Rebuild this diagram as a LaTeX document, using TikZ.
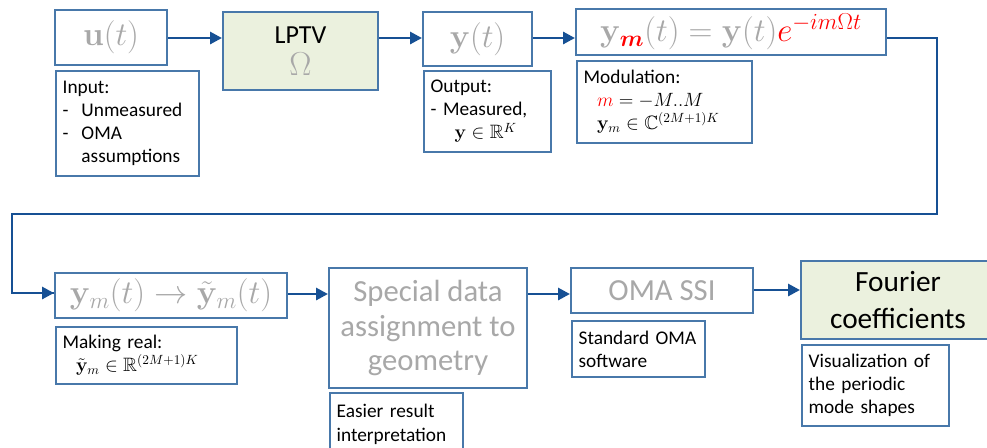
\documentclass[tikz,border=0pt]{standalone}
\usepackage{amsmath}
\usepackage{amssymb}
\usepackage{bm}
\usepackage[no-math]{fontspec}
\setmainfont{Carlito}
\usepackage{tikz}
\usetikzlibrary{calc,positioning,arrows.meta}
\definecolor{boxblue}{RGB}{72,120,170}
\definecolor{flowblue}{RGB}{22,80,148}
\definecolor{palegreen}{RGB}{235,241,222}
\definecolor{softgray}{RGB}{168,168,168}
\tikzset{
  block/.style={
    rectangle,
    draw=boxblue, line width=1.5pt,
    fill=white,
    text=softgray,
    inner sep=0pt,
    align=center},
  greenblock/.style={
    block,
    fill=palegreen,
    text=black},
  note/.style={
    rectangle,
    draw=boxblue, line width=1.5pt,
    anchor=north west,
    inner xsep=5pt, inner ysep=0pt,
    align=left,
    font=\fontsize{14.5}{17.3}\selectfont},
  flow/.style={draw=flowblue, line width=2.2pt,
    -{Triangle[length=9pt,width=9pt]}},
  bigtext/.style={font=\fontsize{23}{26}\selectfont},
}
\newcommand{\redm}{{\color{red}m}}
\begin{document}
\begin{tikzpicture}[x=0.75pt,y=-0.75pt]
  \useasboundingbox (0,0) rectangle (987,447);
  % top row
  \node[block, minimum width=84pt, minimum height=41.25pt,
    font=\fontsize{27}{30}\selectfont] (u) at (111,37.5) {$\mathbf{u}(t)$};
  \node[greenblock, minimum width=116.25pt, minimum height=58.5pt,
    font=\fontsize{19.5}{26}\selectfont] (lptv) at (300.5,51)
    {LPTV\\[-2pt]{\color{softgray}\fontsize{23}{26}\selectfont$\Omega$}};
  \node[block, minimum width=81.75pt, minimum height=40.5pt,
    font=\fontsize{25}{28}\selectfont] (y) at (477.5,39) {$\mathbf{y}(t)$};
  \node[block, minimum width=232.5pt, minimum height=34.5pt,
    font=\fontsize{23}{26}\selectfont] (ym) at (731,32)
    {$\mathbf{y}_{\bm{\redm}}(t)=\mathbf{y}(t){\color{red}e^{-im\Omega t}}$};
  \node[note, text width=97pt, minimum height=78.75pt] (inNote) at (55,70)
    {Input:\\-\ \ Unmeasured\\-\ \ OMA\\\phantom{-\ \ }assumptions};
  \node[note, text width=85pt, minimum height=60.75pt] (outNote) at (423,70)
    {Output:\\- Measured,\\\hspace{18pt}$\mathbf{y}\in\mathbb{R}^K$};
  \node[note, text width=121pt, minimum height=61.5pt] (modNote) at (576,60)
    {Modulation:\\\hspace{10pt}$\redm=-M..M$\\\hspace{10pt}$\mathbf{y}_m\in\mathbb{C}^{(2M+1)K}$};
  % bottom row
  \node[block, minimum width=174pt, minimum height=33.75pt,
    font=\fontsize{24}{27}\selectfont] (ymt) at (171,295.5)
    {$\mathbf{y}_m(t)\rightarrow\tilde{\mathbf{y}}_m(t)$};
  \node[block, bigtext, minimum width=148.5pt, minimum height=90pt] (special)
    at (428,328) {Special data\\assignment to\\geometry};
  \node[block, bigtext, minimum width=136.5pt, minimum height=33.75pt] (oma)
    at (662,290.5) {OMA SSI};
  \node[greenblock, minimum width=145.5pt, minimum height=58.5pt,
    font=\fontsize{22}{27.5}\selectfont] (fourier) at (898,300)
    {Fourier\\coefficients};
  \node[note, text width=126pt, minimum height=42.75pt] (realNote) at (55,326)
    {Making real:\\\hspace{10pt}$\tilde{\mathbf{y}}_m\in\mathbb{R}^{(2M+1)K}$};
  \node[note, text width=90pt, minimum height=47pt] (easyNote) at (329,392)
    {Easier result\\interpretation};
  \node[note, text width=90pt, minimum height=42pt] (stdNote) at (571,320)
    {Standard OMA\\software};
  \node[note, text width=100pt, minimum height=60.75pt] (visNote) at (801,344)
    {Visualization of\\the periodic\\mode shapes};
  % connectors
  \coordinate (turnR) at (937,214);
  \coordinate (turnL) at (12,214);
  \draw[flow] (u.east |- 0,38) -- (lptv.west |- 0,38);
  \draw[flow] (lptv.east |- 0,38) -- (y.west |- 0,38);
  \draw[flow] (y.east |- 0,38) -- (ym.west |- 0,38);
  \draw[flow, -] (ym.east |- 0,38) -| (turnR) -- (turnL) |- (ymt.west |- 0,293);
  \draw[flow] (turnL |- 0,293) -- (ymt.west |- 0,293);
  \draw[flow] (ymt.east |- 0,294) -- (special.west |- 0,294);
  \draw[flow] (special.east |- 0,294) -- (oma.west |- 0,294);
  \draw[flow] (oma.east |- 0,290) -- (fourier.west |- 0,290);
\end{tikzpicture}
\end{document}
